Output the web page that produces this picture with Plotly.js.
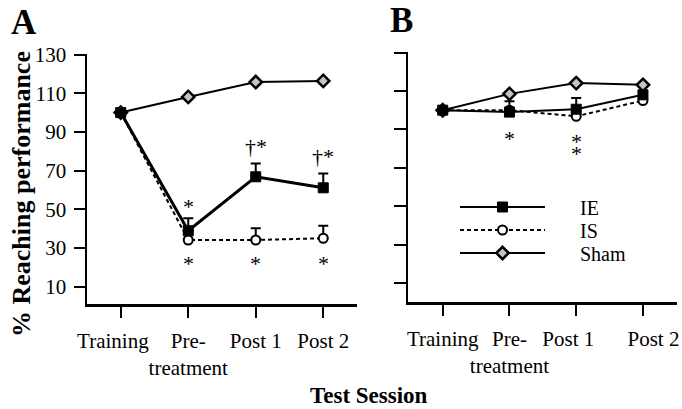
<!DOCTYPE html>
<html>
<head>
<meta charset="utf-8">
<script src="https://cdn.plot.ly/plotly-3.0.1.min.js"></script>
<style>html,body{margin:0;padding:0;background:#fff;}#chart{width:682px;height:409px;}</style>
</head>
<body>
<div id="chart"></div>
<script>
// ---- data ----
const sessionIdx = [0, 1, 2, 3];
const sessionLabels = ['Training', 'Pre-<br>treatment', 'Post 1', 'Post 2'];
const yTickVals = [10, 30, 50, 70, 90, 110, 130];

// Panel A
const ieA = [100, 38.9, 66.8, 61.1];
const ieAErr = [0, 6.4, 6.9, 7.4];
const isA = [100, 34.1, 34.1, 35.0];
const isAErr = [0, 5.0, 6.1, 6.5];
const shamA = [100, 108.1, 115.8, 116.4];

// Panel B
const ieB = [100, 99.0, 100.5, 108.0];
const ieBErr = [0, 5.7, 5.8, 0];
const isB = [100, 100.0, 96.8, 105.0];
const shamB = [100, 108.5, 114.1, 113.2];

// significance marks
const sigAX = [1, 2, 3, 1, 2, 3];
const sigAY = [51.3, 82.6, 77.5, 22.2, 22.2, 22.2];
const sigAText = ['*', '†*', '†*', '*', '*', '*'];
const sigBX = [1, 2, 2];
const sigBY = [85.3, 83.8, 77.5];
const sigBText = ['*', '*', '*'];

const seriesNames = ['IE', 'IS', 'Sham'];

// ---- styling ----
const FONT = 'Liberation Serif, Times New Roman, serif';
const W = 682, H = 409;
const px = v => v / W;
const py = v => (H - v) / H;
const grayFill = '#c4c4c4';
const nb = n => '\u00a0'.repeat(n);

// small per-panel label nudges, as in the original figure
const labelsA = sessionLabels.map((s, i) => i === 0 ? s + nb(3) : s);
const labelsB = sessionLabels.map((s, i) => i === 2 ? s + nb(3) : (i === 3 ? nb(4) + s : s));

function firstBlack(n, c) { return Array.from({length: n}, (_, i) => i === 0 ? 'black' : c); }

const styles = {
  sham: {line: {color: 'black', width: 2}, marker: {symbol: 'diamond', size: 9.5, color: grayFill, line: {color: 'black', width: 2.5}}},
  is: {line: {color: 'black', width: 2, dash: '4px,3px'}, marker: {symbol: 'circle', size: 9, color: 'white', line: {color: 'black', width: 2}}},
  ie: {line: {color: 'black', width: 2}, marker: {symbol: 'square', size: 10, color: 'black', line: {color: 'black', width: 1}}}
};

function errBar(arr) {
  return {type: 'data', symmetric: false, array: arr, arrayminus: arr.map(() => 0), color: 'black', thickness: 2, width: 5};
}

function makeTraces(xa, ya, ie, ieErr, is, isErr, sham, ieWidth) {
  return [
    {
      x: sessionIdx, y: sham, name: seriesNames[2], type: 'scatter', mode: 'lines+markers',
      xaxis: xa, yaxis: ya, line: styles.sham.line,
      marker: Object.assign({}, styles.sham.marker, {color: firstBlack(4, grayFill)}),
      showlegend: false
    },
    {
      x: sessionIdx, y: is, name: seriesNames[1], type: 'scatter', mode: 'lines+markers',
      xaxis: xa, yaxis: ya, line: styles.is.line,
      marker: Object.assign({}, styles.is.marker, {color: firstBlack(4, 'white')}),
      error_y: errBar(isErr), showlegend: false
    },
    {
      x: sessionIdx, y: ie, name: seriesNames[0], type: 'scatter', mode: 'lines+markers',
      xaxis: xa, yaxis: ya, line: Object.assign({}, styles.ie.line, {width: ieWidth}),
      marker: styles.ie.marker,
      error_y: errBar(ieErr), showlegend: false
    }
  ];
}

const pad = nb(6);
const legendTraces = [
  {x: [null], y: [null], name: pad + seriesNames[0], type: 'scatter', mode: 'lines+markers', xaxis: 'x2', yaxis: 'y2', line: styles.ie.line, marker: styles.ie.marker, legend: 'legend'},
  {x: [null], y: [null], name: pad + seriesNames[1], type: 'scatter', mode: 'lines+markers', xaxis: 'x2', yaxis: 'y2', line: styles.is.line, marker: styles.is.marker, legend: 'legend2'},
  {x: [null], y: [null], name: pad + seriesNames[2], type: 'scatter', mode: 'lines+markers', xaxis: 'x2', yaxis: 'y2', line: styles.sham.line, marker: styles.sham.marker, legend: 'legend3'}
];

const data = [].concat(
  makeTraces('x', 'y', ieA, ieAErr, isA, isAErr, shamA, 3),
  makeTraces('x2', 'y2', ieB, ieBErr, isB, isB.map(() => 0), shamB, 2),
  legendTraces
);

const xBase = {
  tickmode: 'array', tickvals: sessionIdx, tickangle: 0,
  showline: true, linecolor: 'black', linewidth: 2.5, mirror: false,
  ticks: 'outside', ticklen: 11, tickwidth: 2, tickcolor: 'black',
  showgrid: false, zeroline: false, fixedrange: true,
  tickfont: {family: FONT, size: 21, color: 'black'}, ticklabelstandoff: 5
};
const yBase = {
  tickmode: 'array', tickvals: yTickVals,
  showline: true, linecolor: 'black', linewidth: 2.5,
  ticks: 'outside', ticklen: 11, tickwidth: 2, tickcolor: 'black',
  showgrid: false, zeroline: false, fixedrange: true,
  tickfont: {family: FONT, size: 21, color: 'black'}, ticklabelstandoff: 3
};

const annotations = [];
const ann = o => Object.assign({showarrow: false, xanchor: 'center', yanchor: 'middle'}, o);
sigAX.forEach((x, i) => annotations.push(ann({xref: 'x', yref: 'y', x: x, y: sigAY[i], text: sigAText[i], font: {family: FONT, size: 22, color: 'black'}})));
sigBX.forEach((x, i) => annotations.push(ann({xref: 'x2', yref: 'y2', x: x, y: sigBY[i], text: sigBText[i], font: {family: FONT, size: 22, color: 'black'}})));
annotations.push(ann({xref: 'paper', yref: 'paper', x: px(24), y: py(22), text: '<b>A</b>', font: {family: FONT, size: 35, color: 'black'}}));
annotations.push(ann({xref: 'paper', yref: 'paper', x: px(401), y: py(20), text: '<b>B</b>', font: {family: FONT, size: 35, color: 'black'}}));
annotations.push(ann({xref: 'paper', yref: 'paper', x: px(22), y: py(194), text: '<b>% Reaching performance</b>', textangle: -90, font: {family: FONT, size: 26, color: 'black'}}));
annotations.push(ann({xref: 'paper', yref: 'paper', x: px(369), y: py(395), text: '<b>Test Session</b>', font: {family: FONT, size: 23, color: 'black'}}));

function legendAt(yPix) {
  return {x: px(455), y: py(yPix), xanchor: 'left', yanchor: 'middle', bgcolor: 'rgba(0,0,0,0)', borderwidth: 0,
    font: {family: FONT, size: 20, color: 'black'}, itemwidth: 85, itemclick: false, itemdoubleclick: false};
}

const layout = {
  width: W, height: H,
  margin: {l: 0, r: 0, t: 0, b: 0},
  paper_bgcolor: 'white', plot_bgcolor: 'white',
  showlegend: true,
  xaxis: Object.assign({}, xBase, {ticktext: labelsA, domain: [px(87), px(357)], range: [-0.5, 3.5], anchor: 'y'}),
  yaxis: Object.assign({}, yBase, {domain: [py(304), py(54)], range: [1, 130.3], anchor: 'x'}),
  xaxis2: Object.assign({}, xBase, {ticktext: labelsB, domain: [px(408), px(677)], range: [-0.52, 3.51], anchor: 'y2'}),
  yaxis2: Object.assign({}, yBase, {domain: [py(302), py(52)], range: [0.1, 130.3], anchor: 'x2', showticklabels: false, ticklen: 12}),
  legend: legendAt(207),
  legend2: legendAt(230),
  legend3: legendAt(253),
  annotations: annotations
};

Plotly.newPlot('chart', data, layout, {displayModeBar: false, staticPlot: true});
</script>
</body>
</html>
